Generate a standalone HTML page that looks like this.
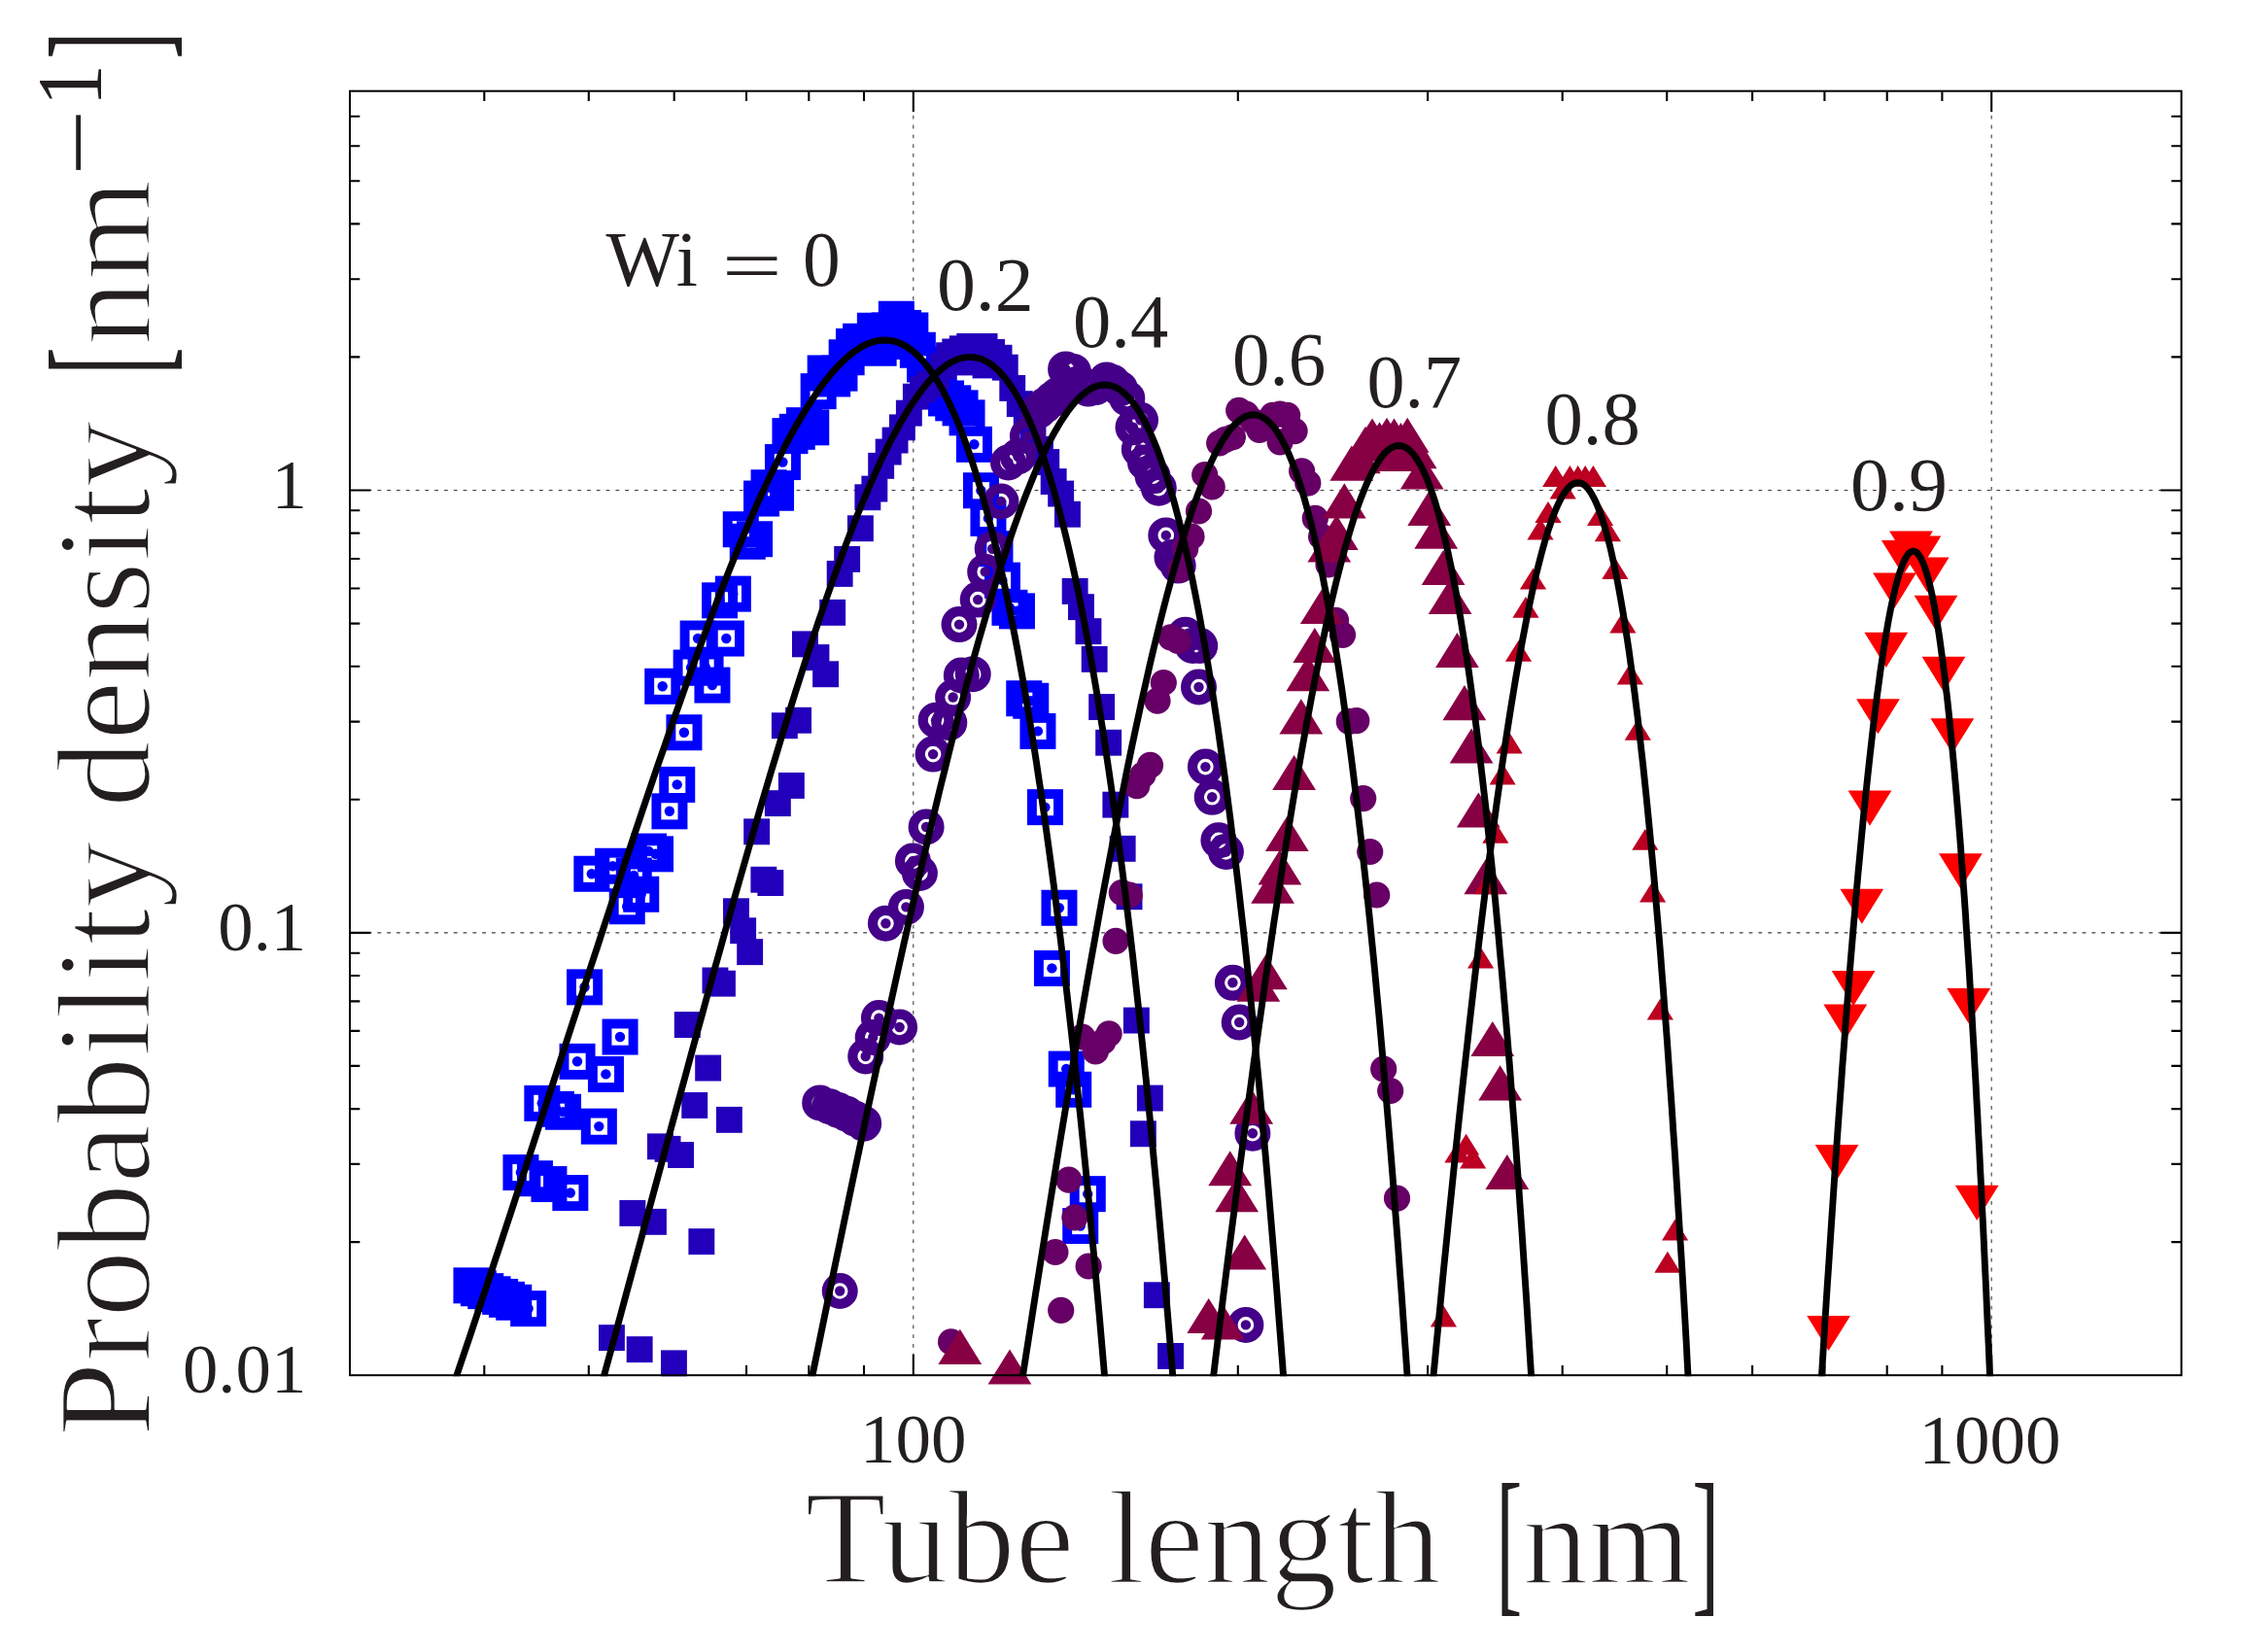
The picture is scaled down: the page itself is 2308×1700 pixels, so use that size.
<!DOCTYPE html>
<html><head><meta charset="utf-8"><title>Tube length distribution</title>
<style>html,body{margin:0;padding:0;background:#fff}svg{display:block}text{font-family:"Liberation Serif",serif;fill:#231f20}</style></head><body>
<svg width="2308" height="1700" viewBox="0 0 2308 1700">
<rect width="2308" height="1700" fill="#fff"/>
<defs>
<g id="a"><rect x="-13.5" y="-13.5" width="27.1" height="27.1" fill="none" stroke="#0000ff" stroke-width="9.9"/><circle r="5.2" fill="#0000ff"/></g>
<rect id="b" x="-13.4" y="-13.4" width="26.9" height="26.9" fill="#2200bb"/>
<g id="c"><circle r="13.4" fill="none" stroke="#440088" stroke-width="10.2"/><circle r="5.2" fill="#440088"/></g>
<circle id="d" r="13.6" fill="#660066"/>
<path id="e" d="M-22.4 0H22.4L0 -36.1Z" fill="#880044"/>
<path id="f" d="M-13.6 0H13.6L0 -21.9Z" fill="#bb0022"/>
<path id="g" d="M-22.4 0H22.4L0 36.1Z" fill="#ff0000"/>
<clipPath id="pc"><rect x="360" y="93.7" width="1884.6" height="1322.5"/></clipPath>
</defs>
<g stroke="#3c3c3c" stroke-width="1.1" stroke-dasharray="3.8 6" stroke-dashoffset="1" fill="none">
<path d="M939.8 1415.2V93.7"/>
<path d="M2049.2 1415.2V93.7"/>
<path d="M360 959.9H2244.6"/>
<path d="M360 504.5H2244.6"/>
</g>
<path d="M498.3 1415.2v-10.3M498.3 93.7v10.3M605.8 1415.2v-10.3M605.8 93.7v10.3M693.7 1415.2v-10.3M693.7 93.7v10.3M768 1415.2v-10.3M768 93.7v10.3M832.3 1415.2v-10.3M832.3 93.7v10.3M889 1415.2v-10.3M889 93.7v10.3M939.8 1415.2v-21.4M939.8 93.7v21.4M1273.8 1415.2v-10.3M1273.8 93.7v10.3M1469.1 1415.2v-10.3M1469.1 93.7v10.3M1607.7 1415.2v-10.3M1607.7 93.7v10.3M1715.2 1415.2v-10.3M1715.2 93.7v10.3M1803.1 1415.2v-10.3M1803.1 93.7v10.3M1877.4 1415.2v-10.3M1877.4 93.7v10.3M1941.7 1415.2v-10.3M1941.7 93.7v10.3M1998.4 1415.2v-10.3M1998.4 93.7v10.3M2049.2 1415.2v-21.4M2049.2 93.7v21.4M360 1278.1h10.3M2244.6 1278.1h-10.3M360 1197.9h10.3M2244.6 1197.9h-10.3M360 1141.1h10.3M2244.6 1141.1h-10.3M360 1096.9h10.3M2244.6 1096.9h-10.3M360 1060.9h10.3M2244.6 1060.9h-10.3M360 1030.4h10.3M2244.6 1030.4h-10.3M360 1004h10.3M2244.6 1004h-10.3M360 980.7h10.3M2244.6 980.7h-10.3M360 959.9h21.4M2244.6 959.9h-21.4M360 822.8h10.3M2244.6 822.8h-10.3M360 742.6h10.3M2244.6 742.6h-10.3M360 685.7h10.3M2244.6 685.7h-10.3M360 641.6h10.3M2244.6 641.6h-10.3M360 605.5h10.3M2244.6 605.5h-10.3M360 575h10.3M2244.6 575h-10.3M360 548.6h10.3M2244.6 548.6h-10.3M360 525.3h10.3M2244.6 525.3h-10.3M360 504.5h21.4M2244.6 504.5h-21.4M360 367.4h10.3M2244.6 367.4h-10.3M360 287.2h10.3M2244.6 287.2h-10.3M360 230.4h10.3M2244.6 230.4h-10.3M360 186.2h10.3M2244.6 186.2h-10.3M360 150.2h10.3M2244.6 150.2h-10.3M360 119.7h10.3M2244.6 119.7h-10.3" stroke="#000" stroke-width="2.1" fill="none"/>
<g>
<use href="#a" x="484.9" y="1322.8"/>
<use href="#a" x="492.3" y="1325.7"/>
<use href="#a" x="499.7" y="1328.6"/>
<use href="#a" x="507" y="1331.7"/>
<use href="#a" x="514.6" y="1334.4"/>
<use href="#a" x="521.4" y="1337.3"/>
<use href="#a" x="528.7" y="1340.2"/>
<use href="#a" x="543.6" y="1346.6"/>
<use href="#a" x="535.9" y="1206.5"/>
<use href="#a" x="550.4" y="1212.7"/>
<use href="#a" x="564.9" y="1218.5"/>
<use href="#a" x="586.8" y="1227.5"/>
<use href="#a" x="557.8" y="1135.3"/>
<use href="#a" x="572.3" y="1141.3"/>
<use href="#a" x="579.5" y="1144.2"/>
<use href="#a" x="616.3" y="1159.1"/>
<use href="#a" x="623.4" y="1105.4"/>
<use href="#a" x="594" y="1092.3"/>
<use href="#a" x="1097.2" y="1100"/>
<use href="#a" x="1104.7" y="1121.2"/>
<use href="#a" x="1119.2" y="1228.6"/>
<use href="#a" x="1111.7" y="1261.5"/>
<use href="#a" x="681.7" y="706.2"/>
<use href="#a" x="732.9" y="705"/>
<use href="#a" x="703.9" y="753.7"/>
<use href="#a" x="696.7" y="807.4"/>
<use href="#a" x="688.9" y="834.8"/>
<use href="#a" x="667.5" y="876"/>
<use href="#a" x="674.5" y="878.8"/>
<use href="#a" x="608.8" y="899.2"/>
<use href="#a" x="630.5" y="891.2"/>
<use href="#a" x="652.2" y="901"/>
<use href="#a" x="659.7" y="920.2"/>
<use href="#a" x="645.2" y="932.7"/>
<use href="#a" x="601.5" y="1015.8"/>
<use href="#a" x="638" y="1067"/>
<use href="#a" x="1053.7" y="718.7"/>
<use href="#a" x="1060.7" y="721.2"/>
<use href="#a" x="1067.9" y="752.4"/>
<use href="#a" x="1075.4" y="830.6"/>
<use href="#a" x="1089.9" y="934.2"/>
<use href="#a" x="1082.4" y="996.4"/>
<use href="#a" x="918.6" y="351.4"/>
<use href="#a" x="904.1" y="358.2"/>
<use href="#a" x="718.1" y="657"/>
<use href="#a" x="747.3" y="657"/>
<use href="#a" x="711.1" y="687"/>
<use href="#a" x="726" y="687"/>
<use href="#a" x="740.5" y="617.8"/>
<use href="#a" x="754.3" y="611.1"/>
<use href="#a" x="762.2" y="544.7"/>
<use href="#a" x="769.2" y="557.2"/>
<use href="#a" x="776.5" y="554.7"/>
<use href="#a" x="783.5" y="513"/>
<use href="#a" x="791" y="501.7"/>
<use href="#a" x="798.5" y="507.2"/>
<use href="#a" x="805.4" y="475.5"/>
<use href="#a" x="812.9" y="448.6"/>
<use href="#a" x="820.2" y="444.3"/>
<use href="#a" x="827.4" y="437.6"/>
<use href="#a" x="834.7" y="439.8"/>
<use href="#a" x="842.1" y="402.6"/>
<use href="#a" x="849.1" y="383.9"/>
<use href="#a" x="856.6" y="389.9"/>
<use href="#a" x="863.9" y="384.1"/>
<use href="#a" x="871.1" y="367.7"/>
<use href="#a" x="878.4" y="356.4"/>
<use href="#a" x="885.6" y="351.2"/>
<use href="#a" x="893.1" y="352.4"/>
<use href="#a" x="900.3" y="340.2"/>
<use href="#a" x="907.6" y="343.7"/>
<use href="#a" x="915.1" y="339.9"/>
<use href="#a" x="922.3" y="328.2"/>
<use href="#a" x="929.5" y="337.4"/>
<use href="#a" x="936.8" y="339.9"/>
<use href="#a" x="944.3" y="360.2"/>
<use href="#a" x="951.5" y="374.9"/>
<use href="#a" x="959" y="389.9"/>
<use href="#a" x="966.2" y="402.4"/>
<use href="#a" x="973.5" y="409.9"/>
<use href="#a" x="980.7" y="414.8"/>
<use href="#a" x="988" y="419.8"/>
<use href="#a" x="995" y="429.8"/>
<use href="#a" x="1002.4" y="457.3"/>
<use href="#a" x="1009.4" y="504.7"/>
<use href="#a" x="1016.9" y="533.4"/>
<use href="#a" x="1023.9" y="564.7"/>
<use href="#a" x="1031.4" y="597.1"/>
<use href="#a" x="1038.9" y="625.3"/>
<use href="#a" x="1046.4" y="628.8"/>
</g>
<g>
<use href="#b" x="629.4" y="1376.6"/>
<use href="#b" x="658.1" y="1388.6"/>
<use href="#b" x="693.4" y="1402.8"/>
<use href="#b" x="650.8" y="1248.4"/>
<use href="#b" x="672.4" y="1257.3"/>
<use href="#b" x="721.8" y="1277.6"/>
<use href="#b" x="679.4" y="1179.8"/>
<use href="#b" x="687" y="1182.3"/>
<use href="#b" x="700.5" y="1188.5"/>
<use href="#b" x="714.7" y="1137.4"/>
<use href="#b" x="750.3" y="1152.3"/>
<use href="#b" x="728.6" y="1099"/>
<use href="#b" x="1183.3" y="1130"/>
<use href="#b" x="1176.3" y="1166.7"/>
<use href="#b" x="1190.3" y="1332.7"/>
<use href="#b" x="1204.5" y="1395.4"/>
<use href="#b" x="849.5" y="693.7"/>
<use href="#b" x="821.5" y="741.2"/>
<use href="#b" x="807.3" y="746.7"/>
<use href="#b" x="814.3" y="808.4"/>
<use href="#b" x="800.3" y="826.6"/>
<use href="#b" x="778.6" y="855.8"/>
<use href="#b" x="785.8" y="905.2"/>
<use href="#b" x="792.8" y="908.5"/>
<use href="#b" x="757.4" y="937.7"/>
<use href="#b" x="764.6" y="957.7"/>
<use href="#b" x="771.6" y="979.6"/>
<use href="#b" x="735.9" y="1008.9"/>
<use href="#b" x="743.4" y="1012.1"/>
<use href="#b" x="707.2" y="1054.5"/>
<use href="#b" x="1133.6" y="727.5"/>
<use href="#b" x="1140.6" y="764.2"/>
<use href="#b" x="1147.8" y="828.1"/>
<use href="#b" x="1155.1" y="873.3"/>
<use href="#b" x="1162" y="922.7"/>
<use href="#b" x="1169.3" y="1050"/>
<use href="#b" x="828.4" y="662.8"/>
<use href="#b" x="839.9" y="676.5"/>
<use href="#b" x="856.6" y="630.3"/>
<use href="#b" x="864.1" y="590.4"/>
<use href="#b" x="871.6" y="575.4"/>
<use href="#b" x="885.3" y="543.7"/>
<use href="#b" x="892.8" y="511.7"/>
<use href="#b" x="899.8" y="503"/>
<use href="#b" x="906.6" y="479.3"/>
<use href="#b" x="914.1" y="465"/>
<use href="#b" x="921" y="453"/>
<use href="#b" x="928.3" y="439.8"/>
<use href="#b" x="935.3" y="425.1"/>
<use href="#b" x="942.3" y="408.1"/>
<use href="#b" x="949.5" y="400.6"/>
<use href="#b" x="956.5" y="395.6"/>
<use href="#b" x="963.2" y="387.4"/>
<use href="#b" x="970.2" y="376.9"/>
<use href="#b" x="976.5" y="365.7"/>
<use href="#b" x="982.7" y="361.9"/>
<use href="#b" x="990.2" y="358.7"/>
<use href="#b" x="997.7" y="356.4"/>
<use href="#b" x="1005.2" y="356.4"/>
<use href="#b" x="994.2" y="372.9"/>
<use href="#b" x="1014" y="375.9"/>
<use href="#b" x="1013" y="356.4"/>
<use href="#b" x="1020.5" y="362.4"/>
<use href="#b" x="1028" y="368.2"/>
<use href="#b" x="1034.2" y="378.1"/>
<use href="#b" x="1041.7" y="399.4"/>
<use href="#b" x="1049.2" y="415.6"/>
<use href="#b" x="1056.2" y="429.8"/>
<use href="#b" x="1062.9" y="444.8"/>
<use href="#b" x="1070.4" y="462.3"/>
<use href="#b" x="1076.7" y="475.5"/>
<use href="#b" x="1084.1" y="495.5"/>
<use href="#b" x="1091.6" y="508"/>
<use href="#b" x="1098.4" y="529.2"/>
<use href="#b" x="1106.1" y="608.4"/>
<use href="#b" x="1112.4" y="624.6"/>
<use href="#b" x="1119.9" y="649.6"/>
<use href="#b" x="1126.1" y="678.3"/>
</g>
<g>
<use href="#c" x="843.7" y="1134.9"/>
<use href="#c" x="853.7" y="1138.7"/>
<use href="#c" x="862.5" y="1142.4"/>
<use href="#c" x="871.2" y="1146.2"/>
<use href="#c" x="880" y="1151.2"/>
<use href="#c" x="888.7" y="1156.2"/>
<use href="#c" x="864.2" y="1328.5"/>
<use href="#c" x="1288.9" y="1166.2"/>
<use href="#c" x="1281.9" y="1363.4"/>
<use href="#c" x="989.3" y="695"/>
<use href="#c" x="980.6" y="717.5"/>
<use href="#c" x="963.1" y="741.2"/>
<use href="#c" x="976.8" y="743.7"/>
<use href="#c" x="960.1" y="776.1"/>
<use href="#c" x="953.1" y="851"/>
<use href="#c" x="939.4" y="886"/>
<use href="#c" x="946.4" y="898.5"/>
<use href="#c" x="932.4" y="933.4"/>
<use href="#c" x="911.4" y="950.2"/>
<use href="#c" x="904.4" y="1047.6"/>
<use href="#c" x="925.6" y="1057"/>
<use href="#c" x="898.2" y="1067.5"/>
<use href="#c" x="890.7" y="1087"/>
<use href="#c" x="1001.2" y="693.7"/>
<use href="#c" x="1233.5" y="707"/>
<use href="#c" x="1240.4" y="789.1"/>
<use href="#c" x="1247.2" y="820.3"/>
<use href="#c" x="1253.9" y="864.8"/>
<use href="#c" x="1261.4" y="876.5"/>
<use href="#c" x="1268.4" y="1011.3"/>
<use href="#c" x="1275.2" y="1052"/>
<use href="#c" x="987" y="642.6"/>
<use href="#c" x="1037.5" y="476"/>
<use href="#c" x="1030" y="516"/>
<use href="#c" x="1021.2" y="564.7"/>
<use href="#c" x="1013.7" y="588.4"/>
<use href="#c" x="1006.2" y="617.1"/>
<use href="#c" x="1047.4" y="469.8"/>
<use href="#c" x="1057.4" y="448.6"/>
<use href="#c" x="1068.7" y="422.6"/>
<use href="#c" x="1074.9" y="417.3"/>
<use href="#c" x="1082.4" y="411.3"/>
<use href="#c" x="1088.6" y="406.4"/>
<use href="#c" x="1096.6" y="379.9"/>
<use href="#c" x="1104.4" y="382.4"/>
<use href="#c" x="1112.1" y="394.9"/>
<use href="#c" x="1119.9" y="400.1"/>
<use href="#c" x="1127.3" y="398.6"/>
<use href="#c" x="1138.6" y="390.9"/>
<use href="#c" x="1144.8" y="393.6"/>
<use href="#c" x="1152.3" y="399.9"/>
<use href="#c" x="1159.8" y="409.9"/>
<use href="#c" x="1173.5" y="432.3"/>
<use href="#c" x="1166" y="439.8"/>
<use href="#c" x="1172.3" y="462.3"/>
<use href="#c" x="1178.5" y="476"/>
<use href="#c" x="1186" y="489.8"/>
<use href="#c" x="1192.3" y="502.2"/>
<use href="#c" x="1199.8" y="550.9"/>
<use href="#c" x="1206" y="573.4"/>
<use href="#c" x="1212.2" y="582.1"/>
<use href="#c" x="1219.7" y="653.3"/>
<use href="#c" x="1227.2" y="664.5"/>
<use href="#c" x="1234.7" y="664.5"/>
</g>
<g>
<use href="#d" x="1099.7" y="1214.1"/>
<use href="#d" x="1105.9" y="1252.8"/>
<use href="#d" x="1085.9" y="1288.5"/>
<use href="#d" x="1120.1" y="1303"/>
<use href="#d" x="1091.7" y="1348.4"/>
<use href="#d" x="978.6" y="1380.9"/>
<use href="#d" x="1423.7" y="1100"/>
<use href="#d" x="1430.7" y="1122.5"/>
<use href="#d" x="1437.5" y="1233.1"/>
<use href="#d" x="1197.3" y="702.5"/>
<use href="#d" x="1191" y="721.2"/>
<use href="#d" x="1183.5" y="787.4"/>
<use href="#d" x="1176" y="797.4"/>
<use href="#d" x="1169.8" y="808.6"/>
<use href="#d" x="1162.3" y="921"/>
<use href="#d" x="1154.3" y="918.5"/>
<use href="#d" x="1148.1" y="968.4"/>
<use href="#d" x="1141.1" y="1063.8"/>
<use href="#d" x="1134.8" y="1072"/>
<use href="#d" x="1127.3" y="1082"/>
<use href="#d" x="1113.6" y="1067"/>
<use href="#d" x="1395.8" y="741.7"/>
<use href="#d" x="1388.3" y="742.4"/>
<use href="#d" x="1402.7" y="821.6"/>
<use href="#d" x="1409.7" y="876.5"/>
<use href="#d" x="1416.7" y="921"/>
<use href="#d" x="1204.7" y="655.8"/>
<use href="#d" x="1212.2" y="659.5"/>
<use href="#d" x="1214.7" y="585.9"/>
<use href="#d" x="1219.7" y="564.7"/>
<use href="#d" x="1226" y="552.2"/>
<use href="#d" x="1233.5" y="526"/>
<use href="#d" x="1247.2" y="501"/>
<use href="#d" x="1239.7" y="488.5"/>
<use href="#d" x="1254.7" y="456"/>
<use href="#d" x="1260.9" y="452.3"/>
<use href="#d" x="1268.4" y="449.8"/>
<use href="#d" x="1274.7" y="422.3"/>
<use href="#d" x="1282.1" y="426.1"/>
<use href="#d" x="1289.6" y="433.6"/>
<use href="#d" x="1295.9" y="442.3"/>
<use href="#d" x="1303.4" y="434.8"/>
<use href="#d" x="1309.6" y="427.3"/>
<use href="#d" x="1317.1" y="426.1"/>
<use href="#d" x="1324.6" y="427.3"/>
<use href="#d" x="1332.1" y="443.6"/>
<use href="#d" x="1317.1" y="454.8"/>
<use href="#d" x="1339.6" y="484.8"/>
<use href="#d" x="1345.8" y="497.2"/>
<use href="#d" x="1353.3" y="533.4"/>
<use href="#d" x="1359.6" y="552.2"/>
<use href="#d" x="1367" y="580.9"/>
<use href="#d" x="1374.5" y="638.3"/>
<use href="#d" x="1381.5" y="653.3"/>
</g>
<g>
<use href="#e" x="987.8" y="1403.9"/>
<use href="#e" x="1039" y="1424.6"/>
<use href="#e" x="1287.7" y="1156.7"/>
<use href="#e" x="1265.7" y="1220.3"/>
<use href="#e" x="1272.7" y="1247.3"/>
<use href="#e" x="1280.7" y="1306.5"/>
<use href="#e" x="1243.7" y="1372.1"/>
<use href="#e" x="1258.2" y="1378.4"/>
<use href="#e" x="1543.6" y="1132.4"/>
<use href="#e" x="1550.8" y="1224.1"/>
<use href="#e" x="1345.8" y="711.2"/>
<use href="#e" x="1338.8" y="755.4"/>
<use href="#e" x="1331.6" y="813.1"/>
<use href="#e" x="1324.3" y="876"/>
<use href="#e" x="1316.9" y="910.5"/>
<use href="#e" x="1309.6" y="929.7"/>
<use href="#e" x="1302.4" y="1018.3"/>
<use href="#e" x="1294.9" y="1030.8"/>
<use href="#e" x="1506.9" y="741.2"/>
<use href="#e" x="1514.1" y="785.6"/>
<use href="#e" x="1521.3" y="851.5"/>
<use href="#e" x="1528.8" y="920.2"/>
<use href="#e" x="1535.8" y="1087"/>
<use href="#e" x="1352.8" y="682"/>
<use href="#e" x="1360.3" y="642.1"/>
<use href="#e" x="1367.8" y="578.4"/>
<use href="#e" x="1375.3" y="565.9"/>
<use href="#e" x="1383.3" y="533.4"/>
<use href="#e" x="1390.8" y="494.7"/>
<use href="#e" x="1398.3" y="487.3"/>
<use href="#e" x="1405" y="474.8"/>
<use href="#e" x="1412" y="466.5"/>
<use href="#e" x="1419.5" y="470.3"/>
<use href="#e" x="1427" y="465.8"/>
<use href="#e" x="1434.5" y="466.5"/>
<use href="#e" x="1441.4" y="471"/>
<use href="#e" x="1448.2" y="465.8"/>
<use href="#e" x="1434.7" y="485"/>
<use href="#e" x="1456.2" y="482.3"/>
<use href="#e" x="1463.2" y="503.5"/>
<use href="#e" x="1470.7" y="540.9"/>
<use href="#e" x="1477.7" y="564.7"/>
<use href="#e" x="1485.1" y="602.1"/>
<use href="#e" x="1492.1" y="632.1"/>
<use href="#e" x="1499.4" y="687"/>
</g>
<g>
<use href="#f" x="1499.9" y="1196.6"/>
<use href="#f" x="1508.6" y="1188.6"/>
<use href="#f" x="1515.6" y="1202.4"/>
<use href="#f" x="1485.4" y="1365.4"/>
<use href="#f" x="1723.6" y="1276.5"/>
<use href="#f" x="1715.9" y="1309.7"/>
<use href="#f" x="1553.1" y="775.4"/>
<use href="#f" x="1546.1" y="807.4"/>
<use href="#f" x="1538.8" y="867.8"/>
<use href="#f" x="1530.6" y="920.2"/>
<use href="#f" x="1523.6" y="996.6"/>
<use href="#f" x="1677.4" y="704.5"/>
<use href="#f" x="1685.3" y="761.7"/>
<use href="#f" x="1692.8" y="874.8"/>
<use href="#f" x="1700.6" y="928.5"/>
<use href="#f" x="1708.3" y="1049.6"/>
<use href="#f" x="1600.7" y="501"/>
<use href="#f" x="1615.4" y="501"/>
<use href="#f" x="1623.7" y="501"/>
<use href="#f" x="1631.2" y="501"/>
<use href="#f" x="1639.4" y="501"/>
<use href="#f" x="1608.2" y="513.5"/>
<use href="#f" x="1593" y="537.9"/>
<use href="#f" x="1585" y="555.4"/>
<use href="#f" x="1577.5" y="606.6"/>
<use href="#f" x="1570" y="635.8"/>
<use href="#f" x="1562.5" y="680.8"/>
<use href="#f" x="1646.6" y="540.9"/>
<use href="#f" x="1654.4" y="557.2"/>
<use href="#f" x="1661.9" y="595.9"/>
<use href="#f" x="1669.9" y="651.5"/>
</g>
<g>
<use href="#g" x="1890.1" y="1178.1"/>
<use href="#g" x="1881.6" y="1353.9"/>
<use href="#g" x="2034.2" y="1219.8"/>
<use href="#g" x="1932.5" y="719.2"/>
<use href="#g" x="2008.9" y="739.2"/>
<use href="#g" x="1924" y="813.6"/>
<use href="#g" x="2017.4" y="878.3"/>
<use href="#g" x="1915.8" y="914.7"/>
<use href="#g" x="1907.1" y="999.1"/>
<use href="#g" x="1898.8" y="1033.6"/>
<use href="#g" x="2025.7" y="1017.1"/>
<use href="#g" x="1958.3" y="555.9"/>
<use href="#g" x="1966.5" y="546.4"/>
<use href="#g" x="1975" y="551.4"/>
<use href="#g" x="1983.2" y="573.4"/>
<use href="#g" x="1949.5" y="589.6"/>
<use href="#g" x="1992" y="612.8"/>
<use href="#g" x="1940.8" y="650.8"/>
<use href="#g" x="2000" y="675.8"/>
</g>
<g fill="none" stroke="#000" stroke-width="6.9" stroke-linejoin="round" clip-path="url(#pc)">
<path d="M455.4 1458.2L464.8 1430.7L473.9 1403.5L483 1376.7L491.8 1350.2L500.5 1324L509 1298.2L517.4 1272.8L525.7 1247.7L533.8 1222.9L541.8 1198.5L549.6 1174.4L557.3 1150.7L564.9 1127.3L572.4 1104.3L579.8 1081.6L587 1059.3L594.2 1037.3L601.2 1015.6L608.1 994.3L615 973.4L621.7 952.8L628.4 932.5L634.9 912.6L641.4 893L647.8 873.8L654.1 854.9L660.3 836.4L666.5 818.2L672.5 800.4L678.5 782.9L684.5 765.8L690.3 749L696.1 732.5L701.8 716.4L707.4 700.7L713 685.2L718.5 670.2L724 655.5L729.3 641.1L734.7 627.1L739.9 613.4L745.2 600L750.3 587.1L755.4 574.4L760.5 562.1L765.5 550.2L770.4 538.6L775.3 527.3L780.1 516.4L784.9 505.8L789.7 495.6L794.4 485.8L799.1 476.2L803.7 467.1L808.2 458.2L812.8 449.7L817.3 441.6L821.7 433.8L826.1 426.4L830.5 419.3L834.8 412.5L839.1 406.1L843.3 400L847.5 394.3L851.7 389L855.8 383.9L859.9 379.3L864 374.9L868.1 371L872.1 367.3L876 364L880 361.1L883.9 358.5L887.7 356.2L891.6 354.3L895.4 352.8L899.2 351.6L902.9 350.7L906.6 350.2L910.3 350L914 350.2L917.6 350.7L921.3 351.6L924.8 352.8L928.4 354.3L931.9 356.2L935.4 358.5L938.9 361.1L942.4 364L945.8 367.3L949.2 371L952.6 374.9L955.9 379.3L959.3 383.9L962.6 389L965.9 394.3L969.2 400L972.4 406.1L975.6 412.5L978.8 419.3L982 426.4L985.2 433.8L988.3 441.6L991.4 449.7L994.5 458.2L997.6 467.1L1000.7 476.2L1003.7 485.8L1006.7 495.6L1009.7 505.8L1012.7 516.4L1015.7 527.3L1018.6 538.6L1021.6 550.2L1024.5 562.1L1027.4 574.4L1030.3 587.1L1033.1 600L1036 613.4L1038.8 627.1L1041.6 641.1L1044.4 655.5L1047.2 670.2L1049.9 685.2L1052.7 700.7L1055.4 716.4L1058.1 732.5L1060.8 749L1063.5 765.8L1066.2 782.9L1068.8 800.4L1071.5 818.2L1074.1 836.4L1076.7 854.9L1079.3 873.8L1081.9 893L1084.5 912.6L1087 932.5L1089.6 952.8L1092.1 973.4L1094.6 994.3L1097.1 1015.6L1099.6 1037.3L1102.1 1059.3L1104.6 1081.6L1107 1104.3L1109.4 1127.3L1111.9 1150.7L1114.3 1174.4L1116.7 1198.5L1119.1 1222.9L1121.5 1247.7L1123.8 1272.8L1126.2 1298.2L1128.5 1324L1130.9 1350.2L1133.2 1376.7L1135.5 1403.5L1137.8 1430.7L1140.1 1458.2"/>
<path d="M610.2 1457.5L617.5 1430.4L624.8 1403.7L632 1377.3L639.1 1351.2L646 1325.5L652.9 1300.1L659.7 1275.1L666.3 1250.4L672.9 1226L679.4 1202L685.8 1178.4L692.1 1155L698.4 1132L704.6 1109.4L710.6 1087.1L716.6 1065.1L722.6 1043.5L728.4 1022.2L734.2 1001.2L740 980.6L745.6 960.3L751.2 940.4L756.7 920.8L762.2 901.6L767.6 882.7L772.9 864.1L778.2 845.9L783.4 828L788.6 810.4L793.7 793.2L798.8 776.4L803.8 759.8L808.8 743.7L813.7 727.8L818.5 712.3L823.3 697.2L828.1 682.3L832.8 667.9L837.5 653.7L842.1 639.9L846.7 626.5L851.2 613.4L855.7 600.6L860.2 588.2L864.6 576.1L869 564.3L873.3 552.9L877.6 541.8L881.8 531.1L886.1 520.7L890.2 510.7L894.4 500.9L898.5 491.6L902.6 482.5L906.6 473.9L910.6 465.5L914.6 457.5L918.5 449.8L922.5 442.5L926.3 435.5L930.2 428.9L934 422.6L937.8 416.6L941.6 411L945.3 405.7L949 400.8L952.7 396.2L956.3 391.9L959.9 388L963.5 384.4L967.1 381.2L970.6 378.3L974.1 375.7L977.6 373.5L981.1 371.7L984.5 370.1L987.9 368.9L991.3 368.1L994.7 367.6L998 367.4L1001.3 367.6L1004.6 368.1L1007.9 368.9L1011.2 370.1L1014.4 371.7L1017.6 373.5L1020.8 375.7L1023.9 378.3L1027.1 381.2L1030.2 384.4L1033.3 388L1036.4 391.9L1039.5 396.2L1042.5 400.8L1045.5 405.7L1048.6 411L1051.5 416.6L1054.5 422.6L1057.5 428.9L1060.4 435.5L1063.3 442.5L1066.2 449.8L1069.1 457.5L1072 465.5L1074.8 473.9L1077.6 482.5L1080.5 491.6L1083.3 500.9L1086 510.7L1088.8 520.7L1091.5 531.1L1094.3 541.8L1097 552.9L1099.7 564.3L1102.4 576.1L1105.1 588.2L1107.7 600.6L1110.4 613.4L1113 626.5L1115.6 639.9L1118.2 653.7L1120.8 667.9L1123.4 682.3L1125.9 697.2L1128.5 712.3L1131 727.8L1133.5 743.7L1136.1 759.8L1138.5 776.4L1141 793.2L1143.5 810.4L1145.9 828L1148.4 845.9L1150.8 864.1L1153.2 882.7L1155.6 901.6L1158 920.8L1160.4 940.4L1162.8 960.3L1165.2 980.6L1167.5 1001.2L1169.8 1022.2L1172.2 1043.5L1174.5 1065.1L1176.8 1087.1L1179.1 1109.4L1181.4 1132L1183.6 1155L1185.9 1178.4L1188.1 1202L1190.4 1226L1192.6 1250.4L1194.8 1275.1L1197 1300.1L1199.2 1325.5L1201.4 1351.2L1203.6 1377.3L1205.8 1403.7L1207.9 1430.4L1210.1 1457.5"/>
<path d="M827.6 1456.4L833 1430L838.3 1404L843.6 1378.3L848.8 1353L853.9 1328L859 1303.3L864.1 1278.9L869.1 1254.9L874 1231.2L878.9 1207.9L883.8 1184.8L888.6 1162.1L893.3 1139.8L898 1117.7L902.7 1096L907.3 1074.6L911.9 1053.6L916.4 1032.9L920.9 1012.5L925.3 992.5L929.7 972.7L934.1 953.4L938.4 934.3L942.7 915.6L946.9 897.2L951.2 879.1L955.3 861.4L959.5 844L963.6 826.9L967.6 810.2L971.7 793.8L975.7 777.7L979.6 762L983.6 746.6L987.5 731.5L991.4 716.8L995.2 702.3L999 688.3L1002.8 674.5L1006.5 661.1L1010.3 648L1014 635.2L1017.6 622.8L1021.3 610.7L1024.9 599L1028.5 587.5L1032 576.4L1035.6 565.7L1039.1 555.2L1042.5 545.1L1046 535.3L1049.4 525.9L1052.8 516.8L1056.2 508L1059.6 499.6L1062.9 491.4L1066.2 483.6L1069.5 476.2L1072.8 469.1L1076 462.3L1079.3 455.8L1082.5 449.7L1085.6 443.9L1088.8 438.4L1091.9 433.3L1095.1 428.5L1098.2 424L1101.2 419.9L1104.3 416L1107.3 412.6L1110.4 409.4L1113.4 406.6L1116.4 404.1L1119.3 402L1122.3 400.1L1125.2 398.7L1128.1 397.5L1131 396.7L1133.9 396.2L1136.7 396L1139.6 396.2L1142.4 396.7L1145.2 397.5L1148 398.7L1150.8 400.1L1153.6 402L1156.3 404.1L1159 406.6L1161.8 409.4L1164.5 412.6L1167.1 416L1169.8 419.9L1172.5 424L1175.1 428.5L1177.7 433.3L1180.3 438.4L1182.9 443.9L1185.5 449.7L1188.1 455.8L1190.7 462.3L1193.2 469.1L1195.7 476.2L1198.3 483.6L1200.8 491.4L1203.2 499.6L1205.7 508L1208.2 516.8L1210.6 525.9L1213.1 535.3L1215.5 545.1L1217.9 555.2L1220.3 565.7L1222.7 576.4L1225.1 587.5L1227.5 599L1229.8 610.7L1232.2 622.8L1234.5 635.2L1236.8 648L1239.1 661.1L1241.4 674.5L1243.7 688.3L1246 702.3L1248.3 716.8L1250.5 731.5L1252.8 746.6L1255 762L1257.2 777.7L1259.5 793.8L1261.7 810.2L1263.9 826.9L1266.1 844L1268.2 861.4L1270.4 879.1L1272.5 897.2L1274.7 915.6L1276.8 934.3L1279 953.4L1281.1 972.7L1283.2 992.5L1285.3 1012.5L1287.4 1032.9L1289.5 1053.6L1291.5 1074.6L1293.6 1096L1295.7 1117.7L1297.7 1139.8L1299.7 1162.1L1301.8 1184.8L1303.8 1207.9L1305.8 1231.2L1307.8 1254.9L1309.8 1278.9L1311.8 1303.3L1313.8 1328L1315.7 1353L1317.7 1378.3L1319.7 1404L1321.6 1430L1323.5 1456.4"/>
<path d="M1046.3 1455.1L1050.3 1429.6L1054.2 1404.4L1058.1 1379.5L1061.9 1354.9L1065.7 1330.6L1069.5 1306.7L1073.3 1283L1077 1259.7L1080.7 1236.8L1084.4 1214.1L1088 1191.8L1091.6 1169.8L1095.2 1148.1L1098.8 1126.7L1102.3 1105.7L1105.8 1084.9L1109.3 1064.5L1112.8 1044.4L1116.2 1024.7L1119.6 1005.2L1123 986.1L1126.4 967.3L1129.7 948.8L1133 930.7L1136.3 912.8L1139.6 895.3L1142.9 878.1L1146.1 861.3L1149.3 844.7L1152.5 828.5L1155.7 812.6L1158.8 797L1161.9 781.7L1165 766.8L1168.1 752.2L1171.2 737.9L1174.2 723.9L1177.3 710.2L1180.3 696.9L1183.2 683.9L1186.2 671.2L1189.2 658.8L1192.1 646.8L1195 635L1197.9 623.6L1200.8 612.5L1203.7 601.8L1206.5 591.3L1209.3 581.2L1212.2 571.4L1215 561.9L1217.7 552.8L1220.5 543.9L1223.3 535.4L1226 527.2L1228.7 519.3L1231.4 511.8L1234.1 504.6L1236.8 497.7L1239.4 491.1L1242.1 484.8L1244.7 478.9L1247.3 473.2L1249.9 467.9L1252.5 463L1255.1 458.3L1257.6 454L1260.2 449.9L1262.7 446.2L1265.2 442.9L1267.7 439.8L1270.2 437.1L1272.7 434.7L1275.2 432.6L1277.6 430.8L1280.1 429.4L1282.5 428.2L1284.9 427.4L1287.3 427L1289.7 426.8L1292.1 427L1294.5 427.4L1296.9 428.2L1299.2 429.4L1301.5 430.8L1303.9 432.6L1306.2 434.7L1308.5 437.1L1310.8 439.8L1313.1 442.9L1315.3 446.2L1317.6 449.9L1319.8 454L1322.1 458.3L1324.3 463L1326.5 467.9L1328.7 473.2L1330.9 478.9L1333.1 484.8L1335.3 491.1L1337.5 497.7L1339.6 504.6L1341.8 511.8L1343.9 519.3L1346 527.2L1348.2 535.4L1350.3 543.9L1352.4 552.8L1354.5 561.9L1356.5 571.4L1358.6 581.2L1360.7 591.3L1362.7 601.8L1364.8 612.5L1366.8 623.6L1368.9 635L1370.9 646.8L1372.9 658.8L1374.9 671.2L1376.9 683.9L1378.9 696.9L1380.9 710.2L1382.8 723.9L1384.8 737.9L1386.8 752.2L1388.7 766.8L1390.7 781.7L1392.6 797L1394.5 812.6L1396.4 828.5L1398.3 844.7L1400.3 861.3L1402.1 878.1L1404 895.3L1405.9 912.8L1407.8 930.7L1409.7 948.8L1411.5 967.3L1413.4 986.1L1415.2 1005.2L1417 1024.7L1418.9 1044.4L1420.7 1064.5L1422.5 1084.9L1424.3 1105.7L1426.1 1126.7L1427.9 1148.1L1429.7 1169.8L1431.5 1191.8L1433.3 1214.1L1435 1236.8L1436.8 1259.7L1438.6 1283L1440.3 1306.7L1442.1 1330.6L1443.8 1354.9L1445.5 1379.5L1447.3 1404.4L1449 1429.6L1450.7 1455.1"/>
<path d="M1244 1453.9L1247 1429.1L1250 1404.7L1252.9 1380.6L1255.9 1356.8L1258.8 1333.3L1261.7 1310.1L1264.6 1287.3L1267.5 1264.7L1270.4 1242.5L1273.2 1220.6L1276 1198.9L1278.8 1177.6L1281.6 1156.6L1284.4 1136L1287.2 1115.6L1289.9 1095.5L1292.7 1075.8L1295.4 1056.3L1298.1 1037.2L1300.7 1018.4L1303.4 999.9L1306.1 981.7L1308.7 963.8L1311.3 946.2L1314 929L1316.5 912L1319.1 895.4L1321.7 879L1324.3 863L1326.8 847.3L1329.3 831.9L1331.8 816.8L1334.3 802.1L1336.8 787.6L1339.3 773.4L1341.8 759.6L1344.2 746.1L1346.7 732.8L1349.1 719.9L1351.5 707.3L1353.9 695.1L1356.3 683.1L1358.7 671.4L1361.1 660.1L1363.4 649L1365.8 638.3L1368.1 627.9L1370.4 617.8L1372.7 608L1375 598.5L1377.3 589.3L1379.6 580.4L1381.9 571.9L1384.1 563.6L1386.4 555.7L1388.6 548.1L1390.8 540.8L1393 533.8L1395.2 527.1L1397.4 520.7L1399.6 514.6L1401.8 508.9L1404 503.4L1406.1 498.3L1408.3 493.5L1410.4 489L1412.5 484.8L1414.6 480.9L1416.8 477.3L1418.9 474.1L1420.9 471.1L1423 468.5L1425.1 466.1L1427.2 464.1L1429.2 462.4L1431.3 461L1433.3 459.9L1435.3 459.1L1437.3 458.7L1439.4 458.5L1441.4 458.7L1443.4 459.1L1445.3 459.9L1447.3 461L1449.3 462.4L1451.3 464.1L1453.2 466.1L1455.2 468.5L1457.1 471.1L1459 474.1L1461 477.3L1462.9 480.9L1464.8 484.8L1466.7 489L1468.6 493.5L1470.5 498.3L1472.3 503.4L1474.2 508.9L1476.1 514.6L1477.9 520.7L1479.8 527.1L1481.6 533.8L1483.5 540.8L1485.3 548.1L1487.1 555.7L1488.9 563.6L1490.7 571.9L1492.5 580.4L1494.3 589.3L1496.1 598.5L1497.9 608L1499.7 617.8L1501.4 627.9L1503.2 638.3L1504.9 649L1506.7 660.1L1508.4 671.4L1510.2 683.1L1511.9 695.1L1513.6 707.3L1515.3 719.9L1517.1 732.8L1518.8 746.1L1520.5 759.6L1522.2 773.4L1523.8 787.6L1525.5 802.1L1527.2 816.8L1528.9 831.9L1530.5 847.3L1532.2 863L1533.8 879L1535.5 895.4L1537.1 912L1538.8 929L1540.4 946.2L1542 963.8L1543.6 981.7L1545.3 999.9L1546.9 1018.4L1548.5 1037.2L1550.1 1056.3L1551.7 1075.8L1553.3 1095.5L1554.8 1115.6L1556.4 1136L1558 1156.6L1559.6 1177.6L1561.1 1198.9L1562.7 1220.6L1564.2 1242.5L1565.8 1264.7L1567.3 1287.3L1568.8 1310.1L1570.4 1333.3L1571.9 1356.8L1573.4 1380.6L1574.9 1404.7L1576.5 1429.1L1578 1453.9"/>
<path d="M1471.5 1452.3L1473.7 1428.6L1476 1405.1L1478.2 1382L1480.4 1359.1L1482.6 1336.6L1484.7 1314.3L1486.9 1292.4L1489.1 1270.7L1491.2 1249.4L1493.4 1228.3L1495.5 1207.6L1497.6 1187.1L1499.7 1167L1501.8 1147.1L1503.9 1127.6L1506 1108.3L1508.1 1089.3L1510.2 1070.7L1512.2 1052.3L1514.3 1034.2L1516.3 1016.5L1518.3 999L1520.4 981.8L1522.4 964.9L1524.4 948.4L1526.4 932.1L1528.4 916.1L1530.4 900.4L1532.3 885.1L1534.3 870L1536.3 855.2L1538.2 840.7L1540.1 826.5L1542.1 812.6L1544 799.1L1545.9 785.8L1547.8 772.8L1549.7 760.1L1551.6 747.7L1553.5 735.6L1555.4 723.8L1557.3 712.3L1559.1 701.1L1561 690.2L1562.9 679.6L1564.7 669.3L1566.5 659.3L1568.4 649.6L1570.2 640.2L1572 631.1L1573.8 622.3L1575.6 613.8L1577.4 605.5L1579.2 597.6L1581 590L1582.8 582.7L1584.6 575.7L1586.3 569L1588.1 562.5L1589.8 556.4L1591.6 550.6L1593.3 545.1L1595.1 539.9L1596.8 534.9L1598.5 530.3L1600.2 526L1601.9 521.9L1603.6 518.2L1605.3 514.8L1607 511.6L1608.7 508.8L1610.4 506.3L1612 504L1613.7 502.1L1615.4 500.4L1617 499.1L1618.7 498L1620.3 497.3L1622 496.8L1623.6 496.7L1625.2 496.8L1626.8 497.3L1628.5 498L1630.1 499.1L1631.7 500.4L1633.3 502.1L1634.9 504L1636.5 506.3L1638 508.8L1639.6 511.6L1641.2 514.8L1642.8 518.2L1644.3 521.9L1645.9 526L1647.4 530.3L1649 534.9L1650.5 539.9L1652.1 545.1L1653.6 550.6L1655.1 556.4L1656.7 562.5L1658.2 569L1659.7 575.7L1661.2 582.7L1662.7 590L1664.2 597.6L1665.7 605.5L1667.2 613.8L1668.7 622.3L1670.2 631.1L1671.7 640.2L1673.1 649.6L1674.6 659.3L1676.1 669.3L1677.5 679.6L1679 690.2L1680.4 701.1L1681.9 712.3L1683.3 723.8L1684.8 735.6L1686.2 747.7L1687.6 760.1L1689 772.8L1690.5 785.8L1691.9 799.1L1693.3 812.6L1694.7 826.5L1696.1 840.7L1697.5 855.2L1698.9 870L1700.3 885.1L1701.7 900.4L1703.1 916.1L1704.4 932.1L1705.8 948.4L1707.2 964.9L1708.6 981.8L1709.9 999L1711.3 1016.5L1712.6 1034.2L1714 1052.3L1715.4 1070.7L1716.7 1089.3L1718 1108.3L1719.4 1127.6L1720.7 1147.1L1722 1167L1723.4 1187.1L1724.7 1207.6L1726 1228.3L1727.3 1249.4L1728.6 1270.7L1730 1292.4L1731.3 1314.3L1732.6 1336.6L1733.9 1359.1L1735.2 1382L1736.4 1405.1L1737.7 1428.6L1739 1452.3"/>
<path d="M1872.4 1449.5L1873.7 1427.5L1875.1 1405.9L1876.4 1384.5L1877.7 1363.4L1879 1342.6L1880.3 1322.1L1881.7 1301.8L1883 1281.8L1884.3 1262.1L1885.6 1242.7L1886.9 1223.5L1888.1 1204.6L1889.4 1186L1890.7 1167.7L1892 1149.6L1893.3 1131.8L1894.6 1114.3L1895.8 1097.1L1897.1 1080.2L1898.4 1063.5L1899.6 1047.1L1900.9 1030.9L1902.1 1015.1L1903.4 999.5L1904.6 984.2L1905.9 969.2L1907.1 954.4L1908.4 940L1909.6 925.8L1910.8 911.8L1912 898.2L1913.3 884.8L1914.5 871.7L1915.7 858.9L1916.9 846.4L1918.1 834.1L1919.4 822.1L1920.6 810.4L1921.8 798.9L1923 787.8L1924.2 776.9L1925.4 766.3L1926.6 755.9L1927.7 745.9L1928.9 736.1L1930.1 726.6L1931.3 717.3L1932.5 708.4L1933.7 699.7L1934.8 691.3L1936 683.1L1937.2 675.3L1938.3 667.7L1939.5 660.4L1940.6 653.4L1941.8 646.6L1942.9 640.1L1944.1 633.9L1945.2 628L1946.4 622.3L1947.5 617L1948.7 611.9L1949.8 607L1950.9 602.5L1952.1 598.2L1953.2 594.2L1954.3 590.5L1955.4 587.1L1956.6 583.9L1957.7 581L1958.8 578.4L1959.9 576L1961 574L1962.1 572.2L1963.2 570.6L1964.3 569.4L1965.4 568.4L1966.5 567.8L1967.6 567.3L1968.7 567.2L1969.8 567.3L1970.9 567.8L1972 568.4L1973.1 569.4L1974.1 570.6L1975.2 572.2L1976.3 574L1977.4 576L1978.4 578.4L1979.5 581L1980.6 583.9L1981.6 587.1L1982.7 590.5L1983.8 594.2L1984.8 598.2L1985.9 602.5L1986.9 607L1988 611.9L1989 617L1990.1 622.3L1991.1 628L1992.2 633.9L1993.2 640.1L1994.2 646.6L1995.3 653.4L1996.3 660.4L1997.3 667.7L1998.3 675.3L1999.4 683.1L2000.4 691.3L2001.4 699.7L2002.4 708.4L2003.5 717.3L2004.5 726.6L2005.5 736.1L2006.5 745.9L2007.5 755.9L2008.5 766.3L2009.5 776.9L2010.5 787.8L2011.5 798.9L2012.5 810.4L2013.5 822.1L2014.5 834.1L2015.5 846.4L2016.5 858.9L2017.5 871.7L2018.4 884.8L2019.4 898.2L2020.4 911.8L2021.4 925.8L2022.4 940L2023.3 954.4L2024.3 969.2L2025.3 984.2L2026.3 999.5L2027.2 1015.1L2028.2 1030.9L2029.2 1047.1L2030.1 1063.5L2031.1 1080.2L2032 1097.1L2033 1114.3L2033.9 1131.8L2034.9 1149.6L2035.8 1167.7L2036.8 1186L2037.7 1204.6L2038.7 1223.5L2039.6 1242.7L2040.6 1262.1L2041.5 1281.8L2042.4 1301.8L2043.4 1322.1L2044.3 1342.6L2045.2 1363.4L2046.2 1384.5L2047.1 1405.9L2048 1427.5L2049 1449.5"/>
</g>
<rect x="360" y="93.7" width="1884.6" height="1321.5" stroke="#000" stroke-width="2" fill="none"/>
<text transform="translate(285.9 523.0) scale(1.0100 1)" x="-6.3" font-size="72">1</text>
<text transform="translate(227.0 978.2) scale(1.0100 1)" x="-2.7" font-size="72">0.1</text>
<text transform="translate(190.7 1433.3) scale(1.0100 1)" x="-2.7" font-size="72">0.01</text>
<text transform="translate(891.4 1504.8) scale(1.0139 1)" x="-6.3" font-size="72">100</text>
<text transform="translate(1980.9 1505.8) scale(1.0146 1)" x="-6.3" font-size="72">1000</text>
<text transform="translate(967.0 319.4) scale(1.0307 1)" x="-3.0" font-size="77.5">0.2</text>
<text transform="translate(1107.0 357.4) scale(1.0139 1)" x="-3.0" font-size="77.5">0.4</text>
<text transform="translate(1271.0 396.0) scale(0.9933 1)" x="-3.0" font-size="77.5">0.6</text>
<text transform="translate(1409.5 418.6) scale(1.0088 1)" x="-3.0" font-size="77.5">0.7</text>
<text transform="translate(1592.5 457.3) scale(1.0168 1)" x="-3.0" font-size="77.5">0.8</text>
<text transform="translate(1907.0 524.7) scale(1.0326 1)" x="-3.0" font-size="77.5">0.9</text>
<text transform="translate(623.7 293.6) scale(0.9997 1)" x="-0.1" font-size="80">Wi</text>
<text transform="translate(748.3 297.9) scale(1.3754 0.93)" x="-4.0" font-size="80">=</text>
<text transform="translate(829.0 294.0) scale(0.9674 1)" x="-3.0" font-size="80">0</text>
<text transform="translate(830.8 1629.2) scale(0.9943 1)" x="-2.5" font-size="138" stroke="#fff" stroke-width="2.60" stroke-linejoin="round">Tube length</text>
<text transform="translate(1545.4 1640.8) scale(0.4893 1)" x="-12.2" font-size="164.3">[</text>
<text transform="translate(1570.0 1629.2) scale(1.0163 1)" x="-3.1" font-size="133" stroke="#fff" stroke-width="2.60" stroke-linejoin="round">nm</text>
<text transform="translate(1744.3 1640.8) scale(0.5112 1)" x="-5.9" font-size="164.3">]</text>
<text transform="translate(152.6 1473.0) rotate(-90) translate(-1.3 1.0) scale(0.9992 1)" x="-4.0" font-size="138" stroke="#fff" stroke-width="2.60" stroke-linejoin="round">Probability density</text>
<text transform="translate(152.6 1473.0) rotate(-90) translate(1093.5 12.6) scale(0.5221 1)" x="-12.2" font-size="164.3">[</text>
<text transform="translate(152.6 1473.0) rotate(-90) translate(1120.4 1.0) scale(1.0072 1)" x="-3.1" font-size="133" stroke="#fff" stroke-width="2.60" stroke-linejoin="round">nm</text>
<text transform="translate(152.6 1473.0) rotate(-90) translate(1298.1 -39.9) scale(1.2540 1)" x="-4.8" font-size="97">−</text>
<text transform="translate(152.6 1473.0) rotate(-90) translate(1371.3 -48.5) scale(0.9031 1)" x="-8.4" font-size="95.3">1</text>
<text transform="translate(152.6 1473.0) rotate(-90) translate(1415.2 12.6) scale(0.5194 1)" x="-5.9" font-size="164.3">]</text>
</svg></body></html>
